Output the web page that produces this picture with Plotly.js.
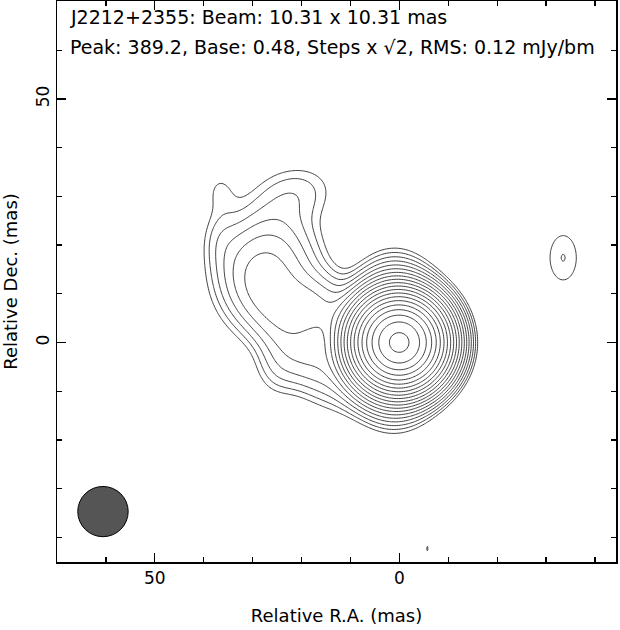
<!DOCTYPE html>
<html><head><meta charset="utf-8">
<script src="https://cdn.plot.ly/plotly-3.0.1.min.js"></script>
<style>html,body{margin:0;padding:0;background:#fff}#plot{width:620px;height:630px}</style>
</head><body><div id="plot"></div>
<script>
// ---- Map description ----
const sourceName = 'J2212+2355';
const beamMaj = 10.31, beamMin = 10.31, beamPA = 0;   // mas
const peakFlux = 389.2, baseLevel = 0.48, rmsNoise = 0.12; // mJy/beam
const nLevels = 20;                                   // base * sqrt(2)^k, k=0..19

// ---- Gaussian brightness components (mas, mJy/beam) ----
//                core  halo   jet   lobeU  lobeD  lobeS north knob  edgeE fill  SE   east   speck
const compX    = [0,    1,    17,   27,    24,    25,   21,  36.8,  37,   16,   11,  -33.5, -5.7];
const compY    = [0,    0.5,  7,    15,    3,     -5.5, 31,  31.5,  22,   -3,   -9,   17.4, -42.3];
const compPeak = [372,  14,   2.5,  2.8,   1.5,   0.6,  0.7, 0.42,  0.35, 0.8,  0.7,  0.685, 0.49];
const compMaj  = [10.31,17,   12,   18,    22,    10,   14,  8,     10,   10,   14,   12.7,  5.8];
const compMin  = [10.31,11,   10,   15,    9,     8,    10,  6,     6,    8,    9,    7.5,   2.3];
const compPA   = [0,    0,    62,   -8,    32,    0,    100, 0,     0,    60,   70,   0,     0];

// map extent
const raRange  = [70, -44.3];
const decRange = [-45.05, 70.1];
const step = 0.35;

const xs = [], ys = [];
for (let v = -46; v <= 71; v += step) { xs.push(+v.toFixed(3)); ys.push(+v.toFixed(3)); }
const zLog = ys.map(y => xs.map(x => {
  let b = 0;
  for (let i = 0; i < compX.length; i++) {
    const dx = x - compX[i], dy = y - compY[i];
    const pa = compPA[i] * Math.PI / 180;
    const a = dx * Math.sin(pa) + dy * Math.cos(pa);
    const c = dx * Math.cos(pa) - dy * Math.sin(pa);
    const sMa = compMaj[i] / 2.3548, sMi = compMin[i] / 2.3548;
    b += compPeak[i] * Math.exp(-0.5 * (a * a / (sMa * sMa) + c * c / (sMi * sMi)));
  }
  return 2 * Math.log2(Math.max(b, 1e-9) / baseLevel);   // contour index
}));

const beamX = 60.6, beamY = -34.7;
const font = 'DejaVu Sans, Verdana, sans-serif';

const trace = {
  type: 'contour', x: xs, y: ys, z: zLog,
  contours: {start: 0, end: nLevels - 1, size: 1, coloring: 'lines'},
  colorscale: [[0, '#2a2a2a'], [1, '#2a2a2a']],
  showscale: false, line: {width: 0.9, smoothing: 1}, hoverinfo: 'skip'
};

const axisCommon = {
  showgrid: false, zeroline: false, showline: true, mirror: 'ticks',
  linecolor: '#000', linewidth: 1.5, ticks: 'inside', ticklen: 9, tickwidth: 1.2,
  tickcolor: '#000', tick0: 0, dtick: 50,
  minor: {dtick: 10, ticks: 'inside', ticklen: 5, tickwidth: 1.2, tickcolor: '#000', showgrid: false},
  tickfont: {family: font, size: 17, color: '#000'}
};

const layout = {
  width: 620, height: 630, margin: {l: 57, r: 4, t: 1, b: 68},
  paper_bgcolor: '#fff', plot_bgcolor: '#fff', showlegend: false,
  xaxis: Object.assign({}, axisCommon, {range: raRange,
    title: {text: 'Relative R.A. (mas)', font: {family: font, size: 18, color: '#000'}, standoff: 22}}),
  yaxis: Object.assign({}, axisCommon, {range: decRange, tickangle: -90,
    title: {text: 'Relative Dec. (mas)', font: {family: font, size: 18, color: '#000'}, standoff: 11}}),
  shapes: [{type: 'circle', xref: 'x', yref: 'y',
    x0: beamX - beamMin / 2, x1: beamX + beamMin / 2,
    y0: beamY - beamMaj / 2, y1: beamY + beamMaj / 2,
    fillcolor: '#555', line: {color: '#000', width: 1}}],
  annotations: [
    {xref: 'paper', yref: 'paper', x: 0.0197, y: 0.9715, xanchor: 'left', yanchor: 'middle', showarrow: false,
     text: sourceName + ': Beam: ' + beamMaj.toFixed(2) + ' x ' + beamMin.toFixed(2) + ' mas',
     font: {family: font, size: 19, color: '#000'}},
    {xref: 'paper', yref: 'paper', x: 0.0197, y: 0.918, xanchor: 'left', yanchor: 'middle', showarrow: false,
     text: 'Peak: ' + peakFlux.toFixed(1) + ', Base: ' + baseLevel.toFixed(2) + ', Steps x √2, RMS: ' + rmsNoise.toFixed(2) + ' mJy/bm',
     font: {family: font, size: 19, color: '#000'}}
  ]
};

Plotly.newPlot('plot', [trace], layout, {staticPlot: true, displayModeBar: false});
</script>
</body></html>
